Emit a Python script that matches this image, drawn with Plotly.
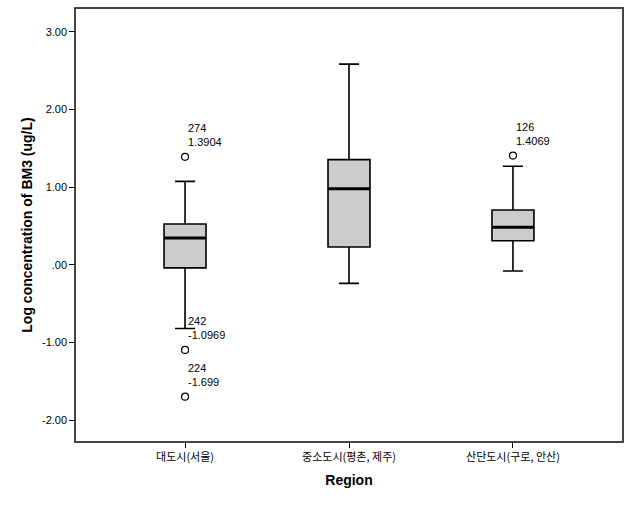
import plotly.graph_objects as go

categories = ["대도시(서울)", "중소도시(평촌, 제주)", "산단도시(구로, 안산)"]
lower_whisker = [-0.82, -0.24, -0.08]
q1 = [-0.04, 0.23, 0.31]
median = [0.345, 0.98, 0.485]
q3 = [0.525, 1.355, 0.705]
upper_whisker = [1.075, 2.585, 1.27]

outlier_group = [0, 0, 0, 2]
outlier_id = ["274", "242", "224", "126"]
outlier_value = [1.3904, -1.0969, -1.699, 1.4069]

ytick_vals = [-2, -1, 0, 1, 2, 3]
ytick_text = ["-2.00", "-1.00", ".00", "1.00", "2.00", "3.00"]

xpos = list(range(len(categories)))
BOX_W = 0.256
FONT = "Liberation Sans, Arial, sans-serif"

fig = go.Figure()
fig.add_trace(go.Box(
    x=xpos, q1=q1, median=median, q3=q3,
    lowerfence=lower_whisker, upperfence=upper_whisker,
    width=BOX_W, whiskerwidth=0.48,
    fillcolor="#cccccc", line=dict(color="#000000", width=1.6),
    boxpoints=False, showlegend=False, hoverinfo="skip",
))
# thicker median lines
for i, m in enumerate(median):
    fig.add_trace(go.Scatter(
        x=[xpos[i] - BOX_W / 2, xpos[i] + BOX_W / 2], y=[m, m],
        mode="lines", line=dict(color="#000000", width=3),
        showlegend=False, hoverinfo="skip",
    ))
fig.add_trace(go.Scatter(
    x=[xpos[g] for g in outlier_group], y=outlier_value,
    mode="markers",
    marker=dict(symbol="circle-open", size=7, color="#000000", line=dict(width=1.2)),
    showlegend=False, hoverinfo="skip",
))
for g, oid, v in zip(outlier_group, outlier_id, outlier_value):
    fig.add_annotation(
        x=xpos[g], y=v, text=f"{oid}<br>{v:g}",
        showarrow=False, xanchor="left", yanchor="bottom",
        xshift=1, yshift=7, align="left",
        font=dict(family=FONT, size=11, color="#000000"),
    )

fig.update_layout(
    width=631, height=506,
    margin=dict(l=76, r=9, t=7, b=65),
    paper_bgcolor="white", plot_bgcolor="white",
    font=dict(family=FONT, size=11, color="#000000"),
)
fig.update_xaxes(
    range=[-0.665, 2.665], tickmode="array", tickvals=xpos, ticktext=categories,
    ticks="outside", ticklen=5, tickcolor="#000000", showgrid=False, zeroline=False,
    showline=True, linecolor="#444444", linewidth=1.5, mirror=True,
    tickfont=dict(family="Noto Sans CJK KR", size=11),
    title=dict(text="<b>Region</b>", font=dict(family=FONT, size=14), standoff=12),
)
fig.update_yaxes(
    range=[-2.27, 3.295], tickmode="array", tickvals=ytick_vals, ticktext=ytick_text,
    ticks="outside", ticklen=5, tickcolor="#000000", showgrid=False, zeroline=False,
    showline=True, linecolor="#444444", linewidth=1.5, mirror=True,
    tickfont=dict(family=FONT, size=11),
    title=dict(text="<b>Log concentration of BM3 (ug/L)</b>", font=dict(family=FONT, size=14), standoff=6),
)

fig.write_html("out.html", config={"displayModeBar": False},
               post_script="document.body.style.margin='0px';")
